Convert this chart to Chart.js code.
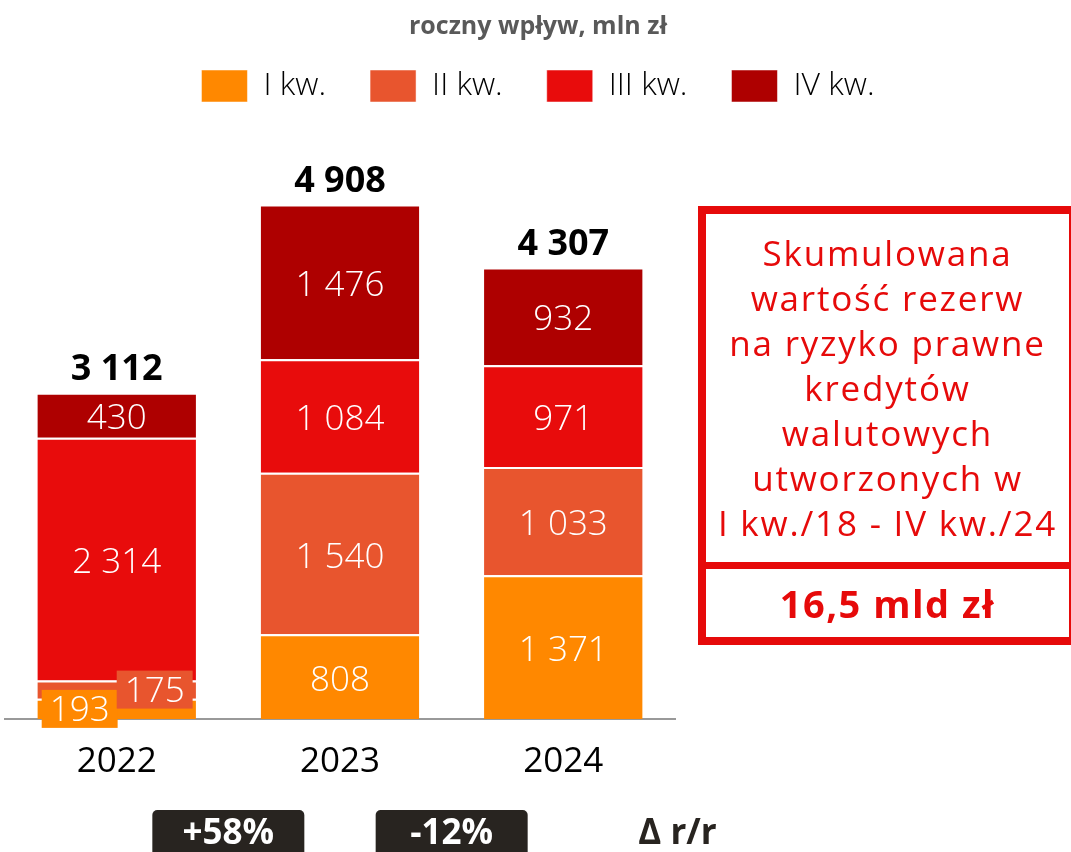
<!DOCTYPE html>
<html>
<head>
<meta charset="utf-8">
<script src="https://cdn.jsdelivr.net/npm/chart.js@4"></script>
<style>
  body { margin: 0; background: #fff; font-family: "Open Sans", sans-serif; }
  #wrap { position: relative; width: 1071px; height: 852px; overflow: hidden; }
  #box {
    position: absolute; left: 698px; top: 206px; width: 363px; height: 423px;
    border: 8px solid #e60a0a; border-right-width: 2px; color: #e60a0a; text-align: center;
  }
  #box .txt { height: 348px; font-size: 35px; line-height: 45px; padding-top: 16px; box-sizing: border-box; letter-spacing: 1.8px; white-space: nowrap; }
  #box .sum { border-top: 7px solid #e60a0a; height: 68px; line-height: 68px; font-size: 38px; font-weight: bold; letter-spacing: 1.5px; }
</style>
</head>
<body>
<div id="wrap">
  <canvas id="chart" width="1071" height="852"></canvas>
  <div id="box">
    <div class="txt">Skumulowana<br>wartość rezerw<br>na ryzyko prawne<br>kredytów<br>walutowych<br>utworzonych w<br>I kw./18 - IV kw./24</div>
    <div class="sum">16,5 mld zł</div>
  </div>
</div>
<script>
const years = ['2022', '2023', '2024'];
const q1 = [193, 808, 1371];
const q2 = [175, 1540, 1033];
const q3 = [2314, 1084, 971];
const q4 = [430, 1476, 932];
const quarterNames = ['I kw.', 'II kw.', 'III kw.', 'IV kw.'];
const colors = ['#ff8800', '#e8552e', '#e80c0c', '#ae0000'];

const fmt = v => String(v).replace(/\B(?=(\d{3})+(?!\d))/g, ' ');
const FONT = '"Open Sans", sans-serif';

const labelsPlugin = {
  id: 'labels',
  afterDatasetsDraw(chart) {
    const ctx = chart.ctx;
    ctx.save();
    ctx.textAlign = 'center';
    ctx.textBaseline = 'middle';
    ctx.font = '300 35px ' + FONT;
    let small = 0;
    chart.data.datasets.forEach((ds, i) => {
      const meta = chart.getDatasetMeta(i);
      meta.data.forEach((bar, j) => {
        const { x, y, base } = bar.getProps(['x', 'y', 'base'], true);
        const cy = (y + base) / 2;
        const txt = fmt(ds.data[j]);
        if (base - y < 40) {
          // label doesn't fit: put it on a tag of the same colour, shifted sideways
          const dx = small % 2 === 0 ? -37 : 38;
          small++;
          const w = ctx.measureText(txt).width + 16;
          ctx.fillStyle = ds.backgroundColor;
          ctx.fillRect(x + dx - w / 2, cy - 19, w, 38);
          ctx.fillStyle = '#fff';
          ctx.fillText(txt, x + dx, cy + 2);
        } else {
          ctx.fillStyle = '#fff';
          ctx.fillText(txt, x, cy + 4);
        }
      });
    });
    // totals
    ctx.font = 'bold 36px ' + FONT;
    ctx.fillStyle = '#000';
    const top = chart.getDatasetMeta(chart.data.datasets.length - 1);
    years.forEach((yr, j) => {
      const total = chart.data.datasets.reduce((s, ds) => s + ds.data[j], 0);
      ctx.fillText(fmt(total), top.data[j].x, top.data[j].y - 23);
    });

    // year-on-year badges
    const xs = chart.scales.x;
    for (let j = 1; j < years.length; j++) {
      const a = chart.data.datasets.reduce((s, ds) => s + ds.data[j - 1], 0);
      const b = chart.data.datasets.reduce((s, ds) => s + ds.data[j], 0);
      const pct = Math.round((b / a - 1) * 100);
      const mx = (xs.getPixelForValue(j - 1) + xs.getPixelForValue(j)) / 2;
      ctx.fillStyle = '#282420';
      ctx.beginPath();
      ctx.roundRect(mx - 76, 810, 152, 60, 5);
      ctx.fill();
      ctx.fillStyle = '#fff';
      ctx.font = 'bold 35px ' + FONT;
      ctx.fillText((pct > 0 ? '+' : '') + pct + '%', mx, 834);
    }
    ctx.fillStyle = '#282420';
    ctx.textAlign = 'left';
    ctx.font = 'bold 35px ' + FONT;
    ctx.fillText('Δ r/r', xs.getPixelForValue(years.length - 1) + 75, 834);
    ctx.restore();
  }
};

const series = [q1, q2, q3, q4];
new Chart(document.getElementById('chart'), {
  type: 'bar',
  data: {
    labels: years,
    datasets: series.map((d, i) => ({
      label: quarterNames[i],
      data: d,
      backgroundColor: colors[i],
      borderColor: '#fff',
      borderWidth: { top: 2, left: 0, right: 0, bottom: 0 },
      borderSkipped: 'start',
      barPercentage: 1,
      categoryPercentage: 0.71
    }))
  },
  options: {
    responsive: false,
    animation: false,
    layout: { padding: { left: 5, right: 0, top: 0, bottom: 0 } },
    plugins: {
      title: {
        display: true,
        text: 'roczny wpływ, mln zł',
        color: '#595959',
        font: { family: FONT, size: 25, weight: 'bold' },
        padding: { top: 12, bottom: -16 }
      },
      legend: {
        labels: {
          boxWidth: 46, boxHeight: 32, padding: 44,
          color: '#000',
          font: { family: FONT, size: 32, weight: '300' }
        }
      },
      tooltip: { enabled: false }
    },
    scales: {
      x: {
        stacked: true,
        grid: { display: false },
        border: { display: true, color: '#999', width: 2 },
        ticks: { color: '#000', font: { family: FONT, size: 35 }, padding: 14 },
        afterFit(s) { s.height = 133; }
      },
      y: {
        stacked: true, display: false, min: 0, max: 5790
      },
      y2: {
        position: 'right', display: true,
        grid: { display: false }, border: { display: false }, ticks: { display: false },
        afterFit(s) { s.width = 396; }
      }
    }
  },
  plugins: [labelsPlugin]
});
</script>
</body>
</html>
